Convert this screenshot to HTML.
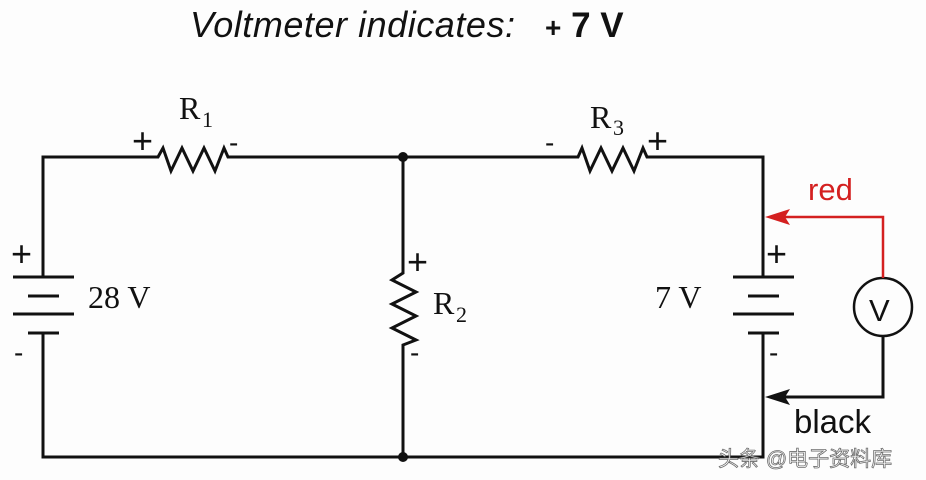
<!DOCTYPE html>
<html><head><meta charset="utf-8"><style>
body{margin:0;background:#fdfdfd;}
svg{display:block}
</style></head><body>
<svg width="926" height="480" viewBox="0 0 926 480" xmlns="http://www.w3.org/2000/svg">
<rect width="926" height="480" fill="#fdfdfd"/>
<text x="190" y="37" font-family="Liberation Sans, sans-serif" font-style="italic" font-size="36" fill="#111" textLength="325">Voltmeter indicates:</text>
<text x="545" y="37" font-family="Liberation Sans, sans-serif" font-weight="bold" font-size="35" fill="#111"><tspan font-size="28">+</tspan> 7 V</text>
<g stroke="#111" stroke-width="3" fill="none">
<polyline points="43,277 43,157 158,157 163,148 171,171 182,148 193,171 204,148 215,171 224,148 228,157 403,157 578,157 582,148 590,171 601,148 612,171 623,148 634,171 643,148 647,157 763,157 763,277"/>
<polyline points="43,333 43,457 763,457 763,333"/>
<polyline points="403,157 403,273 392,280 416,292 392,304 416,316 392,328 416,340 403,345 403,457"/>
<line x1="13" y1="277" x2="74" y2="277"/><line x1="28" y1="296" x2="59" y2="296"/>
<line x1="13" y1="314" x2="74" y2="314"/><line x1="28" y1="333" x2="59" y2="333"/>
<line x1="733" y1="277" x2="794" y2="277"/><line x1="748" y1="296" x2="779" y2="296"/>
<line x1="733" y1="314" x2="794" y2="314"/><line x1="748" y1="333" x2="779" y2="333"/>
<circle cx="883" cy="307" r="29" stroke-width="2.5"/>
<polyline points="883,336 883,397 775,397"/>
</g>
<polyline points="883,278 883,217 775,217" stroke="#d42020" stroke-width="2.5" fill="none"/>
<polygon points="765,217 790,209 785,217 790,225" fill="#d42020"/>
<polygon points="765,397 790,389 785,397 790,405" fill="#111"/>
<circle cx="403" cy="157" r="5" fill="#111"/>
<circle cx="403" cy="457" r="5" fill="#111"/>
<g font-family="Liberation Serif, serif" fill="#111">
<text x="179" y="119" font-size="32">R</text><text x="202" y="127" font-size="22">1</text>
<text x="590" y="128" font-size="32">R</text><text x="613" y="135" font-size="22">3</text>
<text x="433" y="314" font-size="32">R</text><text x="456" y="322" font-size="22">2</text>
<text x="88" y="308" font-size="32">28 V</text>
<text x="655" y="308" font-size="32">7 V</text>
</g>
<g font-family="Liberation Sans, sans-serif" fill="#111" font-size="36">
<text x="132" y="153">+</text><text x="229" y="152" font-size="28">-</text>
<text x="545" y="152" font-size="28">-</text><text x="647" y="153">+</text>
<text x="11" y="266">+</text><text x="14" y="362" font-size="28">-</text>
<text x="407" y="274">+</text><text x="410" y="362" font-size="28">-</text>
<text x="766" y="266">+</text><text x="769" y="362" font-size="28">-</text>
<text x="869" y="321" font-size="31">V</text>
<text x="794" y="433" font-size="33">black</text>
</g>
<text x="808" y="200" font-family="Liberation Sans, sans-serif" font-size="31" fill="#d42020">red</text>
<text x="718" y="466" font-family="Liberation Sans, 'Noto Sans CJK SC', sans-serif" font-size="21" fill="#fff" stroke="#555" stroke-width="0.8" opacity="0.85">头条 @电子资料库</text>
</svg>
</body></html>
